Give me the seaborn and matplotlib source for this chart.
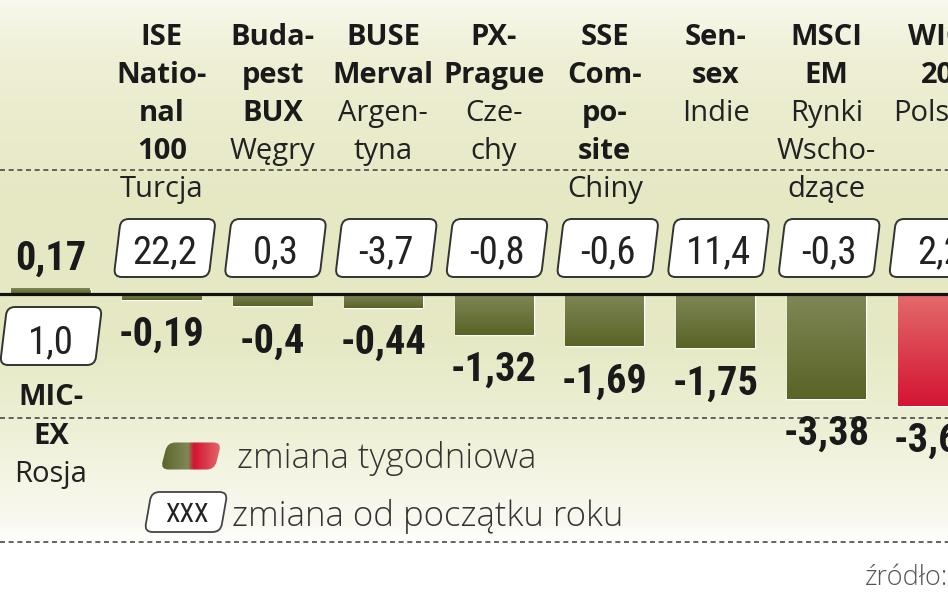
import numpy as np
import pandas as pd
import seaborn as sns
import matplotlib.pyplot as plt
import matplotlib.transforms as mtransforms
from matplotlib import font_manager as fm
from matplotlib.path import Path
from matplotlib.patches import PathPatch
from matplotlib.colors import LinearSegmentedColormap

# data
categories = ["MIC-EX", "ISE National 100", "Budapest BUX", "BUSE Merval", "PX-Prague",
              "SSE Composite", "Sensex", "MSCI EM", "WIG 20"]
name_lines = [["MIC-", "EX"], ["ISE", "Natio-", "nal", "100"], ["Buda-", "pest", "BUX"],
              ["BUSE", "Merval"], ["PX-", "Prague"], ["SSE", "Com-", "po-", "site"],
              ["Sen-", "sex"], ["MSCI", "EM"], ["WIG", "20"]]
country_lines = [["Rosja"], ["Turcja"], ["Węgry"], ["Argen-", "tyna"], ["Cze-", "chy"],
                 ["Chiny"], ["Indie"], ["Rynki", "Wscho-", "dzące"], ["Polska"]]
weekly = [0.17, -0.19, -0.4, -0.44, -1.32, -1.69, -1.75, -3.38, -3.62]
ytd = [1.0, 22.2, 0.3, -3.7, -0.8, -0.6, 11.4, -0.3, 2.2]
highlight = "WIG 20"

# layout in image pixels
W, H = 948, 593
X0_PX, DX_PX = 51, 110.75     # first category centre, spacing
Y0_PX, DY_PX = 294, 31        # zero line row, px per unit

OLIVE_TOP, OLIVE_BOT = (0.50, 0.53, 0.34), (0.35, 0.39, 0.15)
RED_TOP, RED_BOT = (0.89, 0.42, 0.42), (0.83, 0.08, 0.20)
SANS = ["Open Sans", "DejaVu Sans"]

# pick a narrow face if one is installed
fams = {f.name for f in fm.fontManager.ttflist}
NARROW, STRETCH = ["DejaVu Sans"], "normal"
for cand in ["Roboto Condensed", "Liberation Sans Narrow", "Noto Sans Condensed",
             "Open Sans Condensed", "Arial Narrow"]:
    if cand in fams:
        NARROW = [cand, "DejaVu Sans"]
        break
else:
    if any(f.name == "DejaVu Sans" and f.stretch != "normal" for f in fm.fontManager.ttflist):
        STRETCH = "condensed"
    elif "Roboto" in fams:
        NARROW = ["Roboto", "DejaVu Sans"]


def ypx(row):
    return (Y0_PX - row) / DY_PX


def fmt(v):
    return str(v).replace(".", ",")


def rounded_parallelogram(w, h, slant, r):
    pts = np.array([[-w / 2 - slant / 2, -h / 2], [w / 2 - slant / 2, -h / 2],
                    [w / 2 + slant / 2, h / 2], [-w / 2 + slant / 2, h / 2]])
    verts, codes = [], []
    for i, p in enumerate(pts):
        prev, nxt = pts[i - 1], pts[(i + 1) % 4]
        a = p + r * (prev - p) / np.linalg.norm(prev - p)
        b = p + r * (nxt - p) / np.linalg.norm(nxt - p)
        verts += [a, p, b]
        codes += [Path.MOVETO if i == 0 else Path.LINETO, Path.CURVE3, Path.CURVE3]
    verts += [verts[0], verts[0]]
    codes += [Path.LINETO, Path.CLOSEPOLY]
    return Path(verts, codes)


def add_box(ax, x, row, w, h, **kw):
    trans = mtransforms.ScaledTranslation(x, ypx(row), ax.transData)
    patch = PathPatch(rounded_parallelogram(w, h, 7, 8), transform=trans, **kw)
    ax.add_patch(patch)
    return patch


sns.set_style("white")
plt.rcParams["font.family"] = NARROW
plt.rcParams["font.stretch"] = STRETCH

fig = plt.figure(figsize=(W / 100, H / 100), dpi=100)
ax = fig.add_axes([0, 0, 1, 1])
xlim = (-X0_PX / DX_PX, (W - X0_PX) / DX_PX)
ylim = (-(H - Y0_PX) / DY_PX, Y0_PX / DY_PX)

# background gradient
stops_px = [0, 60, 200, 330, 430, 520, 545, 593]
stops_rgb = np.array([[248, 248, 236], [238, 239, 212], [230, 232, 196], [229, 232, 194],
                      [238, 240, 214], [249, 249, 240], [255, 255, 255], [255, 255, 255]]) / 255
rows = np.arange(H)
bg = np.stack([np.interp(rows, stops_px, stops_rgb[:, c]) for c in range(3)], axis=-1)[:, None, :]
ax.imshow(bg, extent=[*xlim, *ylim], aspect="auto", origin="upper", zorder=0)

df = pd.DataFrame({"index": categories, "weekly": weekly})
palette = {c: (RED_BOT if c == highlight else OLIVE_BOT) for c in categories}
sns.barplot(data=df, x="index", y="weekly", hue="index", palette=palette, order=categories,
            legend=False, errorbar=None, width=79 / DX_PX, ax=ax, zorder=2)

# gradient fill on each bar
for p, cat in zip(ax.patches, categories):
    x0, w = p.get_x(), p.get_width()
    y_lo, y_hi = sorted([p.get_y(), p.get_y() + p.get_height()])
    top, bot = (RED_TOP, RED_BOT) if cat == highlight else (OLIVE_TOP, OLIVE_BOT)
    grad = np.linspace(top, bot, 64)[:, None, :]
    ax.imshow(grad, extent=[x0, x0 + w, y_lo, y_hi], aspect="auto", origin="upper", zorder=3)

ax.axhline(0, color="#111111", lw=2.3, zorder=5)

ax.set_yticks([4, -4, -8])
ax.grid(axis="y", linestyle=(0, (3, 2.2)), color="#4a4a4a", lw=1.2)
ax.grid(axis="x", visible=False)
ax.set_axisbelow(True)

VAL_FS, BOX_FS, LAB_FS = 29, 28, 21
for i, cat in enumerate(categories):
    v = weekly[i]
    if v >= 0:
        # value above bar, box and names below the zero line
        ax.text(i, v + 19 / DY_PX, fmt(v), ha="center", va="baseline", fontsize=VAL_FS,
                fontweight="bold", color="#1a1a1a", zorder=6)
        add_box(ax, i, 336, 95, 58, facecolor="white", edgecolor="#333333", lw=1.4, zorder=6)
        ax.text(i, ypx(353), fmt(ytd[i]), ha="center", va="baseline", fontsize=BOX_FS,
                color="#222222", zorder=7)
        rows_ = [405, 444, 482]
    else:
        ax.text(i, v - 46 / DY_PX, fmt(v), ha="center", va="baseline", fontsize=VAL_FS,
                fontweight="bold", color="#1a1a1a", zorder=6)
        add_box(ax, i + 3 / DX_PX, 248, 95, 58, facecolor="white", edgecolor="#333333",
                lw=1.4, zorder=6)
        ax.text(i + 3 / DX_PX, ypx(263), fmt(ytd[i]), ha="center", va="baseline",
                fontsize=BOX_FS, color="#222222", zorder=7)
        rows_ = [45 + 38 * k for k in range(6)]
    k = 0
    for line in name_lines[i]:
        ax.text(i, ypx(rows_[k]), line, ha="center", va="baseline", fontsize=LAB_FS,
                family=SANS, fontstretch="normal", fontweight="bold", color="#1a1a1a",
                zorder=6)
        k += 1
    for line in country_lines[i]:
        ax.text(i, ypx(rows_[k]), line, ha="center", va="baseline", fontsize=LAB_FS,
                family=SANS, fontstretch="normal", color="#222222", zorder=6)
        k += 1


# legend
def px_x(col):
    return xlim[0] + col / DX_PX


swatch = add_box(ax, px_x(191), 456, 54, 27, facecolor="none", edgecolor="none", zorder=6)
cmap = LinearSegmentedColormap.from_list("sw", [(0, OLIVE_BOT), (0.45, OLIVE_TOP),
                                                (0.55, RED_BOT), (1, RED_TOP)])
im = ax.imshow(np.linspace(0, 1, 64)[None, :], cmap=cmap, aspect="auto",
               extent=[px_x(160), px_x(222), ypx(472), ypx(440)], zorder=6)
im.set_clip_path(swatch)
ax.text(px_x(237), ypx(468), "zmiana tygodniowa", fontsize=25, family=SANS,
        fontweight="light", fontstretch="normal", color="#333333", va="baseline", zorder=6)
add_box(ax, px_x(186), 512, 76, 40, facecolor="white", edgecolor="#444444", lw=1.3, zorder=6)
ax.text(px_x(187), ypx(521.5), "XXX", fontsize=19, color="#222222", ha="center",
        va="baseline", zorder=7)
ax.text(px_x(232), ypx(526), "zmiana od początku roku", fontsize=25, family=SANS,
        fontweight="light", fontstretch="normal", color="#333333", va="baseline", zorder=6)
ax.text(px_x(865), ypx(585), "źródło:", fontsize=19.5, family=SANS, fontweight="light",
        fontstretch="normal", color="#555555", va="baseline", zorder=6)

ax.set_xlim(*xlim)
ax.set_ylim(*ylim)
ax.set_xlabel("")
ax.set_ylabel("")
ax.set_xticks([])
ax.tick_params(left=False, labelleft=False)
sns.despine(ax=ax, left=True, bottom=True)

fig.savefig("out.png", dpi=100)
